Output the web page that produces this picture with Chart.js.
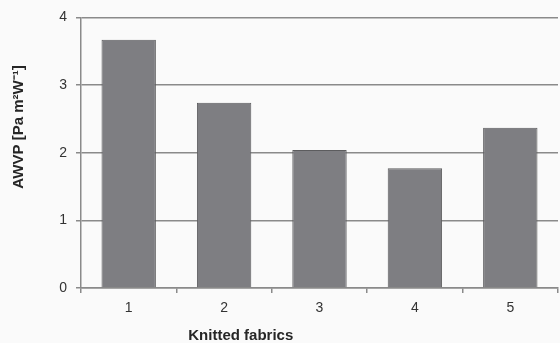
<!DOCTYPE html>
<html>
<head>
<meta charset="utf-8">
<script src="https://cdn.jsdelivr.net/npm/chart.js@4"></script>
<style>
  html, body { margin: 0; padding: 0; background: #fafafa; }
  #wrap { width: 560px; height: 343px; position: relative; }
</style>
</head>
<body>
<div id="wrap"><canvas id="chart"></canvas></div>
<script>
const categories = ['1', '2', '3', '4', '5'];
const awvp = [3.67, 2.74, 2.04, 1.77, 2.37];
const yTicks = [0, 1, 2, 3, 4];
const xTitle = 'Knitted fabrics';
const yTitle = 'AWVP [Pa m²W⁻¹]';

const fontFamily = '"Liberation Sans", Arial, sans-serif';

// axis titles sit off-centre in the original, so draw them by hand
const axisTitles = {
    id: 'axisTitles',
    afterDraw(chart) {
        const ctx = chart.ctx;
        const x = chart.scales.x;
        const y = chart.scales.y;
        ctx.save();
        ctx.fillStyle = '#262626';
        ctx.font = 'bold 15px ' + fontFamily;
        ctx.textAlign = 'center';
        ctx.textBaseline = 'middle';
        ctx.fillText(xTitle, x.left + (x.right - x.left) * 0.335, 336);
        ctx.translate(19, y.top + (y.bottom - y.top) * 0.405);
        ctx.rotate(-Math.PI / 2);
        ctx.fillText(yTitle, 0, 0);
        ctx.restore();
    }
};

new Chart(document.getElementById('chart'), {
    type: 'bar',
    data: {
        labels: categories,
        datasets: [{
            data: awvp,
            backgroundColor: '#7e7e82',
            borderColor: '#5c5c5e',
            borderWidth: 1,
            categoryPercentage: 1,
            barPercentage: 0.57
        }]
    },
    options: {
        responsive: true,
        maintainAspectRatio: false,
        animation: false,
        layout: { padding: { top: 17, right: 2, left: 0, bottom: 0 } },
        plugins: {
            legend: { display: false },
            tooltip: { enabled: false }
        },
        scales: {
            x: {
                grid: {
                    offset: true,
                    drawOnChartArea: false,
                    color: '#8a8a8a',
                    lineWidth: 1.5,
                    tickLength: 5
                },
                border: { color: '#8a8a8a', width: 1.5 },
                ticks: {
                    color: '#333',
                    padding: 7,
                    font: { family: fontFamily, size: 14 }
                },
                afterFit(scale) { scale.height = 55; }
            },
            y: {
                min: 0,
                max: 4,
                afterBuildTicks(scale) {
                    scale.ticks = yTicks.map(v => ({ value: v }));
                },
                grid: {
                    color: '#8a8a8a',
                    lineWidth: 1.5,
                    tickLength: 5
                },
                border: { color: '#8a8a8a', width: 1.5 },
                ticks: {
                    color: '#333',
                    padding: 9,
                    font: { family: fontFamily, size: 14 }
                },
                afterFit(scale) { scale.width = 81; }
            }
        }
    },
    plugins: [axisTitles]
});
</script>
</body>
</html>
